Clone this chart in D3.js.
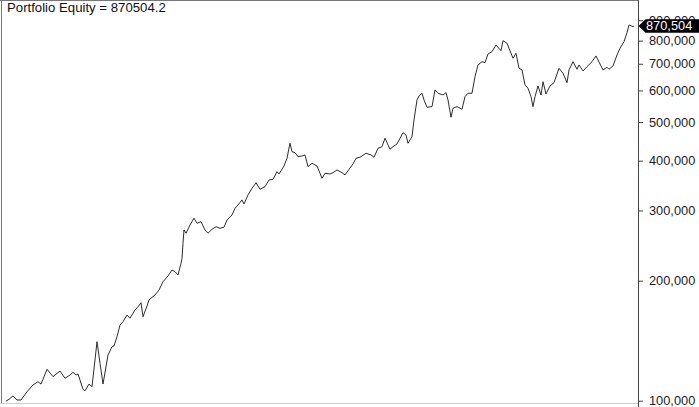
<!DOCTYPE html>
<html><head><meta charset="utf-8">
<script src="https://cdn.jsdelivr.net/npm/d3@7"></script>
<style>html,body{margin:0;padding:0;background:#fff;}svg{display:block;font-family:"Liberation Sans",Arial,sans-serif;}</style>
</head><body>
<svg id="c" width="699" height="407"></svg>
<script>
const titleText = "Portfolio Equity = 870504.2";
const lastLabel = "870,504";
const lastValue = 870504;
const tickValues = [100000,200000,300000,400000,500000,600000,700000,800000,900000];
const bars = [0,3,7,11,15,21,27,32,35,37,41,47,51,54,59,64,67,70,72,77,79,83,86,91,94,97,102,106,108,111,
114,117,121,124,129,132,135,137,141,143,146,149,153,157,162,166,169,172,175,176,177,178,180,184,188,191,195,199,202,206,
210,214,218,221,226,229,232,236,238,242,246,250,254,259,263,267,271,273,278,281,284,286,289,292,296,299,302,306,311,316,
319,324,327,331,336,339,343,347,350,354,360,365,368,372,376,379,384,387,391,397,400,402,406,408,411,413,416,418,421,426,
429,432,437,440,442,445,447,451,456,459,462,466,469,472,476,479,482,486,490,495,497,501,503,507,510,513,516,519,522,525,
527,529,532,535,537,540,544,548,553,557,561,563,567,571,573,577,581,586,590,594,597,601,603,607,611,614,618,621,623,627,628];
const equity = [99800,100800,102800,100400,100400,105300,109500,111600,110100,113200,119900,114900,117100,118700,113800,116000,117800,116000,116700,106800,
105900,110100,108400,140600,124100,110100,130200,136600,137200,144700,
154800,157800,164000,161000,168900,172100,176100,162400,172800,178900,181700,184100,189500,198800,205500,212700,210700,206700,221100,227600,
248200,268000,263000,275900,286800,278600,281200,268000,263000,269100,273200,270700,272300,284000,292300,
303800,309700,318800,311500,328100,341000,352200,339100,344200,357800,359200,375400,370400,387900,405600,442300,421300,418900,409300,411000,
413400,386400,394000,387900,361300,371900,370400,373200,379100,373200,368300,380600,392400,405600,407900,
417500,413400,407900,429700,433700,455300,427200,433700,440500,470200,464000,442300,459500,506000,568000,581200,590400,568000,544500,546400,
601700,590400,584600,592400,568000,514000,541400,546400,538300,578900,590400,590400,649700,695200,708500,704500,
740700,750700,780300,755000,799900,788000,765600,722600,743800,682000,675400,619300,607600,578900,546400,578900,615800,584600,631200,588000,
615800,627600,682000,662600,627600,675400,708500,678100,695200,671500,688400,708500,732300,699200,675400,686000,678100,691200,736500,765600,
795300,837700,875800,867300,870504];

const data = bars.map((b,i)=>({b, v: equity[i]}));
const svg = d3.select("#c");
const axisX = 638.5;
const x = d3.scaleLinear().domain([0, 628]).range([6, 634]);
const y = d3.scaleLog().domain([100000, 1000000]).range([400.7, 2.0]);

// frame
svg.append("line").attr("x1",1.5).attr("x2",1.5).attr("y1",0).attr("y2",404).attr("stroke","#777").attr("stroke-width",1);
svg.append("line").attr("x1",0).attr("x2",axisX).attr("y1",0.5).attr("y2",0.5).attr("stroke","#777").attr("stroke-width",1);
svg.append("line").attr("x1",0).attr("x2",axisX).attr("y1",403.5).attr("y2",403.5).attr("stroke","#ccc").attr("stroke-width",1);

// line
svg.append("path").datum(data)
  .attr("fill","none").attr("stroke","#222").attr("stroke-width",0.95)
  .attr("d", d3.line().x(d=>x(d.b)).y(d=>y(d.v)));

// axis
const ax = d3.axisRight(y).tickValues(tickValues).tickSize(4.5).tickPadding(6)
  .tickFormat(d3.format(","));
const g = svg.append("g").attr("transform",`translate(${axisX},0)`).call(ax);
g.select(".domain").attr("d","M0,0V407").attr("stroke","#444");
g.selectAll(".tick line").attr("stroke","#444");
g.selectAll(".tick text").attr("font-size","12.8px").attr("fill","#1c1c2a").attr("font-family","Liberation Sans, Arial, sans-serif");

// last value marker
const ly = y(lastValue);
const mk = svg.append("g");
mk.append("path")
  .attr("d",`M${axisX},${ly} L${axisX+7},${ly-6.8} L699,${ly-6.8} L699,${ly+6.8} L${axisX+7},${ly+6.8} Z`)
  .attr("fill","#000");
mk.append("text").attr("x",646).attr("y",ly).attr("dy","0.35em")
  .attr("font-size","12.8px").attr("fill","#fff").text(lastLabel);

// title
svg.append("text").attr("x",7).attr("y",12).attr("font-size","13.2px").attr("fill","#111").text(titleText);
</script>
</body></html>
